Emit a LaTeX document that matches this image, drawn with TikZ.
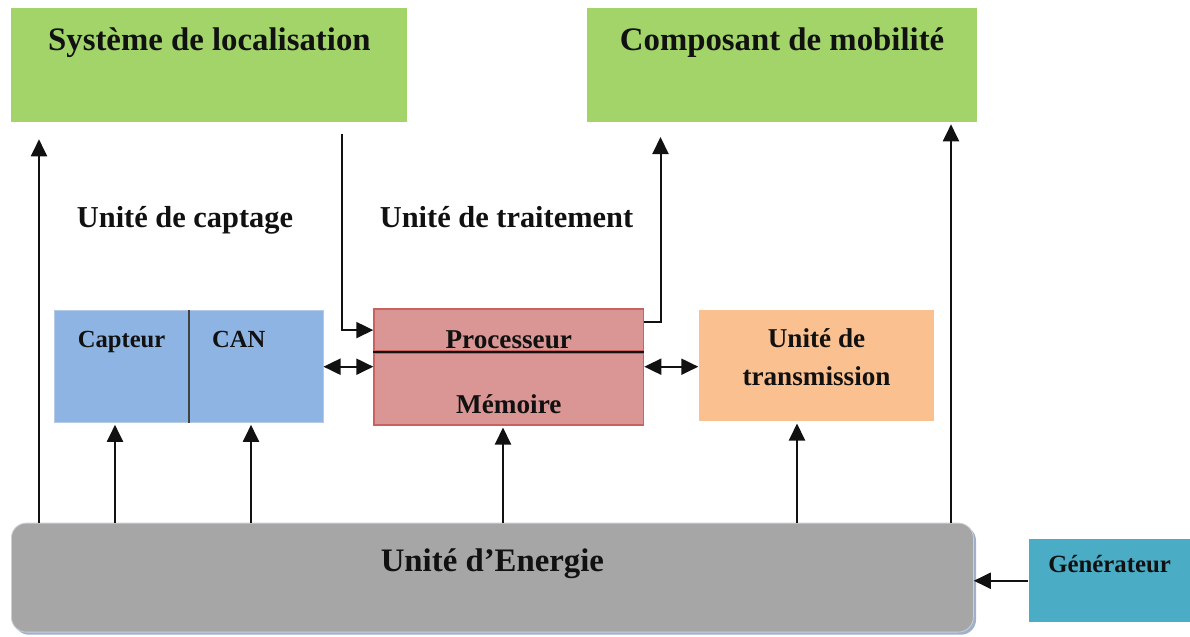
\documentclass[tikz,border=0pt]{standalone}
\usepackage{fontspec}
\setmainfont{Liberation Serif}
\usetikzlibrary{arrows.meta,shadows}
\definecolor{leaf}{HTML}{A2D46A}
\definecolor{sky}{HTML}{8DB4E2}
\definecolor{skyline}{HTML}{B4C9E4}
\definecolor{rose}{HTML}{D99694}
\definecolor{roseline}{HTML}{C8625F}
\definecolor{peach}{HTML}{FAC090}
\definecolor{ash}{HTML}{A6A6A6}
\definecolor{ashline}{HTML}{C9D0DA}
\definecolor{ashshadow}{HTML}{9FB0CA}
\definecolor{teal}{HTML}{4BACC6}
\definecolor{ink}{HTML}{111111}

\begin{document}
\begin{tikzpicture}[
  x=0.5pt, y=-0.5pt,
  unitbox/.style  = {anchor=north west, inner sep=0pt, font=\bfseries, text=ink},
  greenbox/.style = {unitbox, fill=leaf, minimum width=195pt, minimum height=57pt,
                     text height=21.5pt, text depth=35.6pt, font=\bfseries\fontsize{16.4}{19}\selectfont},
  bluebox/.style  = {unitbox, fill=sky, draw=skyline, minimum width=67.2pt, minimum height=56pt,
                     text height=18.5pt, text depth=37.5pt, font=\bfseries\fontsize{12.3}{14}\selectfont},
  redbox/.style   = {unitbox, fill=rose, draw=roseline, thick, minimum width=134.7pt,
                     font=\bfseries\fontsize{13.6}{16}\selectfont},
  heading/.style  = {anchor=base, font=\bfseries\fontsize{15.2}{18}\selectfont, text=ink},
  pow/.style      = {-{Triangle[length=8.5pt,width=8pt]}, line width=1pt, draw=ink},
  both/.style     = {{Triangle[length=8.5pt,width=8pt]}-{Triangle[length=8.5pt,width=8pt]}, line width=1pt, draw=ink},
]
\useasboundingbox (0,0) rectangle (1190,637);

% top blocks
\node[greenbox, minimum width=198pt] (loc) at (11,7.3) {Système de localisation};
\node[greenbox, minimum width=194.7pt] (mob) at (587,7.3) {Composant de mobilité};

\node[heading] (captage) at (185,227) {Unité de captage};
\node[heading] (traitement) at (506.5,227) {Unité de traitement};

% sensing unit
\node[bluebox] (capteur) at (54,310) {Capteur};
\node[bluebox, inner xsep=11.7pt, text width=43.8pt, align=left] (can) at (188.3,310) {CAN};
\draw[ink!80, line width=1pt] (capteur.north east) -- (capteur.south east);

% processing unit
\node[redbox, minimum height=21pt, text height=19.5pt, text depth=1.5pt] (proc) at (373.3,308.3) {Processeur};
\node[redbox, minimum height=36pt, text height=30.5pt, text depth=5.5pt] (mem) at (proc.south west) {Mémoire};
\draw[ink, line width=1pt] (proc.south west) -- (proc.south east);

% transmission unit
\node[unitbox, fill=peach, minimum width=117.85pt, minimum height=55.7pt, align=center,
      text height=37.85pt, text depth=17.85pt, font=\bfseries\fontsize{13.6}{18.85}\selectfont]
  (trans) at (698.3,309.3) {Unité de\\transmission};

% energy
\node[unitbox, fill=ash, draw=ashline, rounded corners=7.5pt, minimum width=481pt, minimum height=54.5pt,
      text height=24pt, text depth=30.5pt, font=\bfseries\fontsize{16.4}{19}\selectfont,
      drop shadow={shadow xshift=1.3pt, shadow yshift=-1.3pt, fill=ashshadow, opacity=1}]
  (nrj) at (11,522.7) {Unité d’Energie};
\node[unitbox, fill=teal, minimum width=80.85pt, minimum height=41.35pt,
      text height=16.35pt, text depth=25pt, font=\bfseries\fontsize{12.4}{14}\selectfont]
  (gen) at (1028.3,539) {Générateur};

% connectors
\coordinate (lhead) at (39,139.3);
\coordinate (lstart) at (342.3,134.3);
\coordinate (mhead) at (660.5,137);

\draw[pow] (nrj.north -| lhead) -- (lhead);
\foreach \xx/\tgt in {115/capteur, 251/can, 503/mem, 797/trans, 951/mob}
  \draw[pow] (nrj.north -| \xx,0) -- ([yshift=-1pt]\tgt.south -| \xx,0);

\draw[pow] (lstart) |- (proc.west);
\draw[pow] (proc.east |- 0,322.3) -| (mhead);

\draw[both] (can.east |- 0,366.7) -- (mem.west |- 0,366.7);
\draw[both] (mem.east |- 0,366.7) -- (trans.west |- 0,366.7);

\draw[pow] (gen.west) -- (nrj.east |- gen.west);

\end{tikzpicture}
\end{document}
